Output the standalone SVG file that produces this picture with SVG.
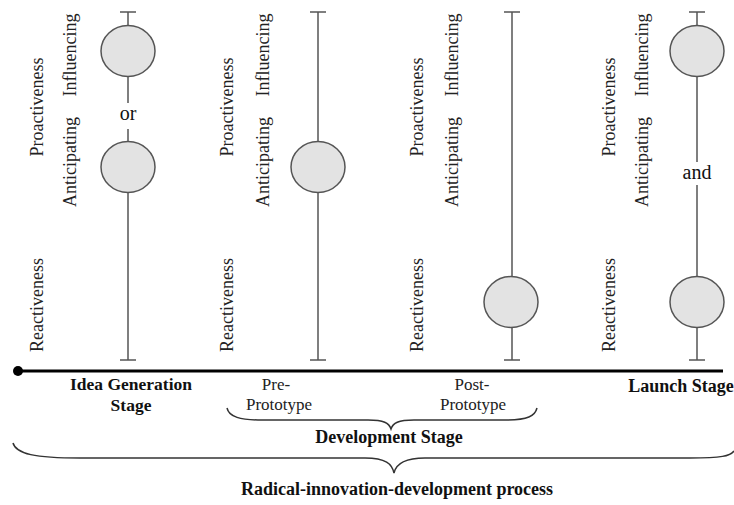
<svg xmlns="http://www.w3.org/2000/svg" width="734" height="505" viewBox="0 0 734 505">
<style>
.bg{fill:#ffffff}
.vl{stroke:#555;stroke-width:1.5;fill:none}
.cap{stroke:#555;stroke-width:1.5}
.node{fill:#e3e3e3;stroke:#555;stroke-width:1.5}
text{font-family:'Times New Roman','Liberation Serif',Tinos,'DejaVu Serif',serif}
.lab{font-size:18px;fill:#222;text-anchor:middle}
.conj{font-size:20px;fill:#111;text-anchor:middle}
.norm{font-size:17px;fill:#222;text-anchor:middle}
.bold{font-size:18px;font-weight:bold;fill:#111;text-anchor:middle}
.axis{stroke:#000;stroke-width:3}
.brace{stroke:#333;stroke-width:1.5;fill:none}
</style>
<rect class="bg" x="0" y="0" width="734" height="505"/>

<g id="connectors">
  <line class="vl" x1="128" y1="12" x2="128" y2="25"/>
  <line class="vl" x1="128" y1="77" x2="128" y2="103"/>
  <line class="vl" x1="128" y1="129" x2="128" y2="141"/>
  <line class="vl" x1="128" y1="193" x2="128" y2="360"/>
  <line class="cap" x1="120" y1="12" x2="136" y2="12"/>
  <line class="cap" x1="120" y1="360" x2="136" y2="360"/>
  <line class="vl" x1="318" y1="12" x2="318" y2="141"/>
  <line class="vl" x1="318" y1="193" x2="318" y2="360"/>
  <line class="cap" x1="310" y1="12" x2="326" y2="12"/>
  <line class="cap" x1="310" y1="360" x2="326" y2="360"/>
  <line class="vl" x1="512" y1="12" x2="512" y2="276"/>
  <line class="vl" x1="512" y1="328" x2="512" y2="360"/>
  <line class="cap" x1="504" y1="12" x2="520" y2="12"/>
  <line class="cap" x1="504" y1="360" x2="520" y2="360"/>
  <line class="vl" x1="697" y1="12" x2="697" y2="25"/>
  <line class="vl" x1="697" y1="77" x2="697" y2="162"/>
  <line class="vl" x1="697" y1="185" x2="697" y2="276"/>
  <line class="vl" x1="697" y1="328" x2="697" y2="360"/>
  <line class="cap" x1="689" y1="12" x2="705" y2="12"/>
  <line class="cap" x1="689" y1="360" x2="705" y2="360"/>
  <line class="axis" x1="18" y1="371" x2="723" y2="371"/>
  <circle cx="18" cy="371" r="5" fill="#000"/>
  <path class="brace" d="M227,408 C229,417 240,420 262,420 L368,420 C384,420 389,423 391,429 C393,423 398,420 414,420 L505,420 C528,420 535,416 537,408"/>
  <path class="brace" d="M13,443 C16,454 35,458 80,458 L365,458 C386,458 392,464 394,473 C396,464 404,458 425,458 L690,458 C722,458 730,456 734,451"/>
</g>

<g id="col1-influencing"><ellipse class="node" cx="128" cy="51" rx="27" ry="25.5"/></g>
<g id="col1-anticipating"><ellipse class="node" cx="128" cy="167" rx="27" ry="25.5"/></g>
<g id="col2-anticipating"><ellipse class="node" cx="318" cy="167" rx="27" ry="25.5"/></g>
<g id="col3-reactiveness"><ellipse class="node" cx="511" cy="302" rx="27" ry="25.5"/></g>
<g id="col4-influencing"><ellipse class="node" cx="697" cy="51" rx="27" ry="25.5"/></g>
<g id="col4-reactiveness"><ellipse class="node" cx="697" cy="302" rx="27" ry="25.5"/></g>

<g id="conjunctions">
  <text class="conj" x="128" y="120">or</text>
  <text class="conj" x="697" y="179">and</text>
</g>

<g id="labels-col1">
  <text class="lab" transform="translate(43,107) rotate(-90)">Proactiveness</text>
  <text class="lab" transform="translate(76,55) rotate(-90)">Influencing</text>
  <text class="lab" transform="translate(76,162) rotate(-90)">Anticipating</text>
  <text class="lab" transform="translate(43,305) rotate(-90)">Reactiveness</text>
</g>
<g id="labels-col2">
  <text class="lab" transform="translate(233,107) rotate(-90)">Proactiveness</text>
  <text class="lab" transform="translate(269,55) rotate(-90)">Influencing</text>
  <text class="lab" transform="translate(269,162) rotate(-90)">Anticipating</text>
  <text class="lab" transform="translate(233,305) rotate(-90)">Reactiveness</text>
</g>
<g id="labels-col3">
  <text class="lab" transform="translate(423,107) rotate(-90)">Proactiveness</text>
  <text class="lab" transform="translate(458,55) rotate(-90)">Influencing</text>
  <text class="lab" transform="translate(458,162) rotate(-90)">Anticipating</text>
  <text class="lab" transform="translate(423,305) rotate(-90)">Reactiveness</text>
</g>
<g id="labels-col4">
  <text class="lab" transform="translate(615,107) rotate(-90)">Proactiveness</text>
  <text class="lab" transform="translate(648,55) rotate(-90)">Influencing</text>
  <text class="lab" transform="translate(648,162) rotate(-90)">Anticipating</text>
  <text class="lab" transform="translate(615,305) rotate(-90)">Reactiveness</text>
</g>

<g id="stage-labels">
  <text class="bold" x="131" y="390" style="font-size:17.5px">Idea Generation</text>
  <text class="bold" x="131" y="411" style="font-size:17.5px">Stage</text>
  <text class="norm" x="276" y="390">Pre-</text>
  <text class="norm" x="279" y="410">Prototype</text>
  <text class="norm" x="472" y="390">Post-</text>
  <text class="norm" x="473" y="410">Prototype</text>
  <text class="bold" x="681" y="392">Launch Stage</text>
  <text class="bold" x="389" y="443">Development Stage</text>
  <text class="bold" x="397" y="495">Radical-innovation-development process</text>
</g>
</svg>
